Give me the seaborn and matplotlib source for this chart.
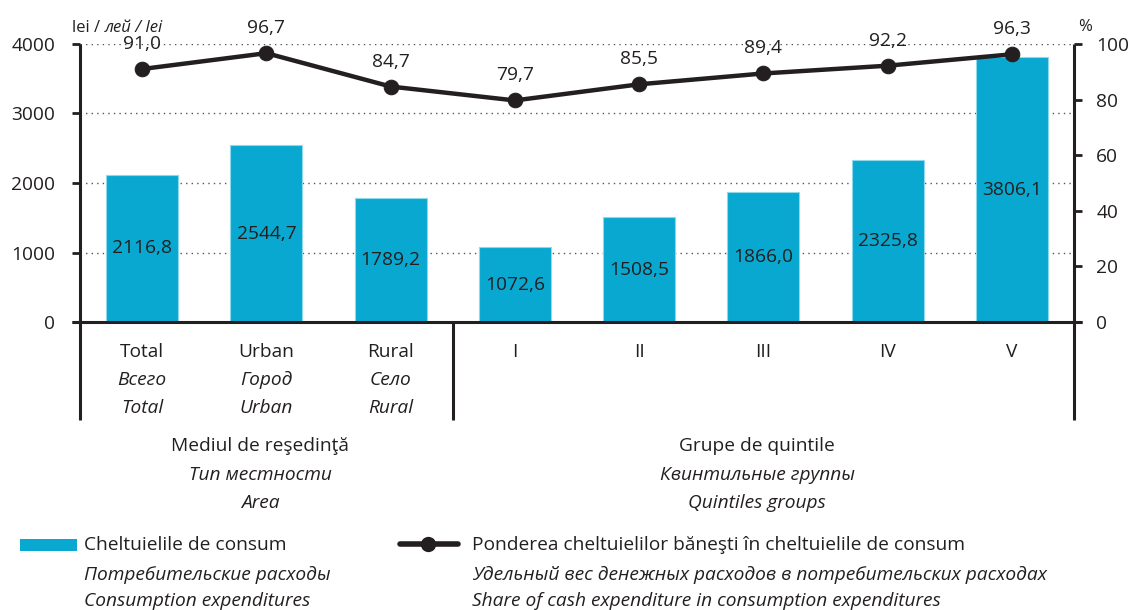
import numpy as np
import pandas as pd
import matplotlib
matplotlib.use("Agg")
import matplotlib.pyplot as plt
import seaborn as sns
from matplotlib.lines import Line2D
from matplotlib.patches import Rectangle

# ---------------- data ----------------
categories = ["Total", "Urban", "Rural", "I", "II", "III", "IV", "V"]
cat_ru = ["Всего", "Город", "Село", "", "", "", "", ""]
cat_en = ["Total", "Urban", "Rural", "", "", "", "", ""]
expenditure = [2116.8, 2544.7, 1789.2, 1072.6, 1508.5, 1866.0, 2325.8, 3806.1]
cash_share = [91.0, 96.7, 84.7, 79.7, 85.5, 89.4, 92.2, 96.3]
group_ro = ["Mediul de reşedinţă", "Grupe de quintile"]
group_ru = ["Тип местности", "Квинтильные группы"]
group_en = ["Area", "Quintiles groups"]
left_ticks = [0, 1000, 2000, 3000, 4000]
right_ticks = [0, 20, 40, 60, 80, 100]
legend_bar = ["Cheltuielile de consum", "Потребительские расходы", "Consumption expenditures"]
legend_line = ["Ponderea cheltuielilor băneşti în cheltuielile de consum",
               "Удельный вес денежных расходов в потребительских расходах",
               "Share of cash expenditure in consumption expenditures"]

# ---------------- style ----------------
BLUE = "#08a8d0"
DARK = "#231f20"
FS = 13.8
W, H = 1132, 610

sns.set_theme(style="white")
plt.rcParams["font.family"] = ["Open Sans", "DejaVu Sans"]
plt.rcParams["text.color"] = DARK

fig = plt.figure(figsize=(W / 100, H / 100), dpi=100)
ax = fig.add_axes([80 / W, 288 / H, 994 / W, 278 / H])

df = pd.DataFrame({"cat": categories, "val": expenditure})
sns.barplot(data=df, x="cat", y="val", color=BLUE, saturation=1, width=0.58,
            edgecolor="#8fd8ec", linewidth=0.8, ax=ax, zorder=2)
ax.set_xlim(-0.5, 7.5)
ax.set_ylim(0, 4000)
ax.set_xlabel("")
ax.set_ylabel("")
ax.set_yticks(left_ticks)
ax.set_yticklabels([str(t) for t in left_ticks])
ax.set_xticks(range(len(categories)))
ax.set_xticklabels([])
ax.tick_params(axis="x", length=0)
ax.tick_params(axis="y", direction="out", length=6, width=2, color=DARK,
               labelsize=FS, labelcolor=DARK, pad=12, left=True)
ax.yaxis.grid(True, linestyle=(0, (1, 3)), color="#555555", linewidth=1)
ax.set_axisbelow(True)
for s in ax.spines.values():
    s.set_visible(False)

for i, v in enumerate(expenditure):
    ax.text(i, v / 2, f"{v:.1f}".replace(".", ","), ha="center", va="center",
            fontsize=FS, color=DARK, zorder=3)

# line on secondary axis
ax2 = ax.twinx()
sns.lineplot(x=np.arange(len(categories)), y=cash_share, ax=ax2, color=DARK,
             linewidth=3.2, marker="o", markersize=10.5, markeredgecolor=DARK,
             markerfacecolor=DARK, zorder=5)
ax2.set_ylim(0, 100)
ax2.set_yticks(right_ticks)
ax2.set_yticklabels([str(t) for t in right_ticks])
ax2.tick_params(axis="y", direction="out", length=6, width=2, color=DARK,
                labelsize=FS, labelcolor=DARK, pad=10, right=True)
ax2.grid(False)
for s in ax2.spines.values():
    s.set_visible(False)
ax.set_xlim(-0.5, 7.5)

for i, v in enumerate(cash_share):
    ax2.annotate(f"{v:.1f}".replace(".", ","), (i, v), xytext=(0, 18),
                 textcoords="offset points", ha="center", va="center",
                 fontsize=FS, color=DARK)

# axis lines and separators
xt = ax.get_xaxis_transform()
ext = 8 / 124.4
ax.add_line(Line2D([-0.5 - ext, 7.5 + ext], [0, 0], transform=xt, color=DARK,
                   lw=2.2, clip_on=False, zorder=6, solid_capstyle="butt"))
low = -98 / 278
for xv, top in [(-0.5, 1.0), (2.5, 0.0), (7.5, 1.0)]:
    ax.add_line(Line2D([xv, xv], [top, low], transform=xt, color=DARK, lw=2.2,
                       clip_on=False, zorder=6, solid_capstyle="butt"))

def ya(py):
    return (322 - py) / 278

# category labels
for i, c in enumerate(categories):
    ax.text(i, ya(352), c, transform=xt, ha="center", va="center", fontsize=FS, color=DARK)
    if cat_ru[i]:
        ax.text(i, ya(380), cat_ru[i], transform=xt, ha="center", va="center",
                fontsize=FS, style="italic", color=DARK)
    if cat_en[i]:
        ax.text(i, ya(408), cat_en[i], transform=xt, ha="center", va="center",
                fontsize=FS, style="italic", color=DARK)

group_x = [0.95, 4.95]
for gx, ro, ru, en in zip(group_x, group_ro, group_ru, group_en):
    ax.text(gx, ya(446), ro, transform=xt, ha="center", va="center", fontsize=FS, color=DARK)
    ax.text(gx, ya(475), ru, transform=xt, ha="center", va="center", fontsize=FS,
            style="italic", color=DARK)
    ax.text(gx, ya(503), en, transform=xt, ha="center", va="center", fontsize=FS,
            style="italic", color=DARK)

# unit labels
t1 = fig.text(72 / W, 1 - 28 / H, "lei / ", ha="left", va="center", fontsize=12, color=DARK)
fig.canvas.draw()
t2 = ax.annotate("лей / lei", xy=(1, 0.5), xycoords=t1, ha="left", va="center",
                 fontsize=12, style="italic", color=DARK, annotation_clip=False)
fig.text(1078 / W, 1 - 27 / H, "%", ha="left", va="center", fontsize=12, color=DARK)

# legend
def fy(py):
    return 1 - py / H

fig.add_artist(Rectangle((20 / W, fy(551)), 57 / W, 12 / H, transform=fig.transFigure,
                         facecolor=BLUE, edgecolor="none"))
fig.add_artist(Line2D([400 / W, 428 / W, 458 / W], [fy(544)] * 3, transform=fig.transFigure,
                      color=DARK, lw=4, marker="o", markersize=10, markevery=[1],
                      solid_capstyle="round"))
for x0, lines in [(84, legend_bar), (472, legend_line)]:
    for k, (txt, py) in enumerate(zip(lines, [545, 575, 601])):
        fig.text(x0 / W, fy(py), txt, ha="left", va="center", fontsize=FS, color=DARK,
                 style="normal" if k == 0 else "italic")

fig.savefig("out.png", dpi=100)
